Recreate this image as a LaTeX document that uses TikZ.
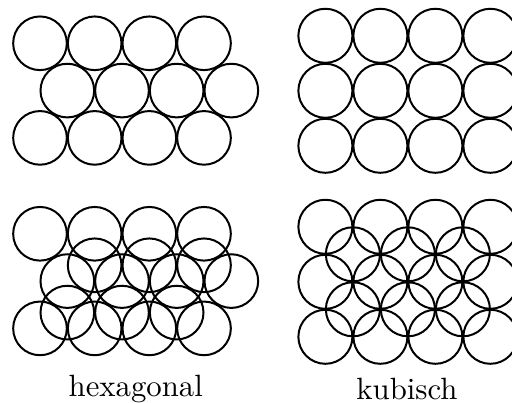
\documentclass[tikz,border=0pt]{standalone}
\usepackage{tikz}
\begin{document}
\begin{tikzpicture}[x=0.325pt, y=-0.325pt, line width=0.65pt,
    kugel/.style={draw, black},
    packname/.style={font=\normalsize, inner sep=0pt, anchor=base}]

    \useasboundingbox (0,0) rectangle (512,403);
    \clip (0,0) rectangle (512,403);

    % --- HEXAGONAL: eine Lage ---
    \foreach \j in {0,1,2} {
        \foreach \i in {0,...,3} {
            \draw[kugel] ({40+54.67*\i+27.33*mod(\j,2)}, {43.3+47.3*\j}) circle (8.72pt);
        }
    }

    % --- KUBISCH: eine Lage ---
    \foreach \j in {0,1,2} {
        \foreach \i in {0,...,3} {
            \draw[kugel] ({325.4+55*\i}, {35.8+55*\j}) circle (8.78pt);
        }
    }

    % --- HEXAGONAL: zwei Lagen ---
    \foreach \j in {0,1,2} {
        \foreach \i in {0,...,3} {
            \draw[kugel] ({40+54.67*\i+27.33*mod(\j,2)}, {233.8+47.3*\j}) circle (8.72pt);
        }
    }
    \foreach \i in {1,2,3} {
        \draw[kugel] ({40+54.67*\i}, 265.3) circle (8.72pt);
    }
    \foreach \i in {0,1,2} {
        \draw[kugel] ({67.33+54.67*\i}, 312.6) circle (8.72pt);
    }

    % --- KUBISCH: zwei Lagen ---
    \foreach \j in {0,1,2} {
        \foreach \i in {0,...,3} {
            \draw[kugel] ({325.4+55*\i}, {226.8+55*\j}) circle (8.78pt);
        }
    }
    \foreach \j in {0,1} {
        \foreach \i in {0,1,2} {
            \draw[kugel] ({352.9+55*\i}, {254.3+55*\j}) circle (8.78pt);
        }
    }

    % Beschriftung
    \node[packname] (hexname) at (135.8,396.4) {hexagonal};
    \node[packname] (kubname) at (407,399.7) {kubisch};

\end{tikzpicture}
\end{document}
